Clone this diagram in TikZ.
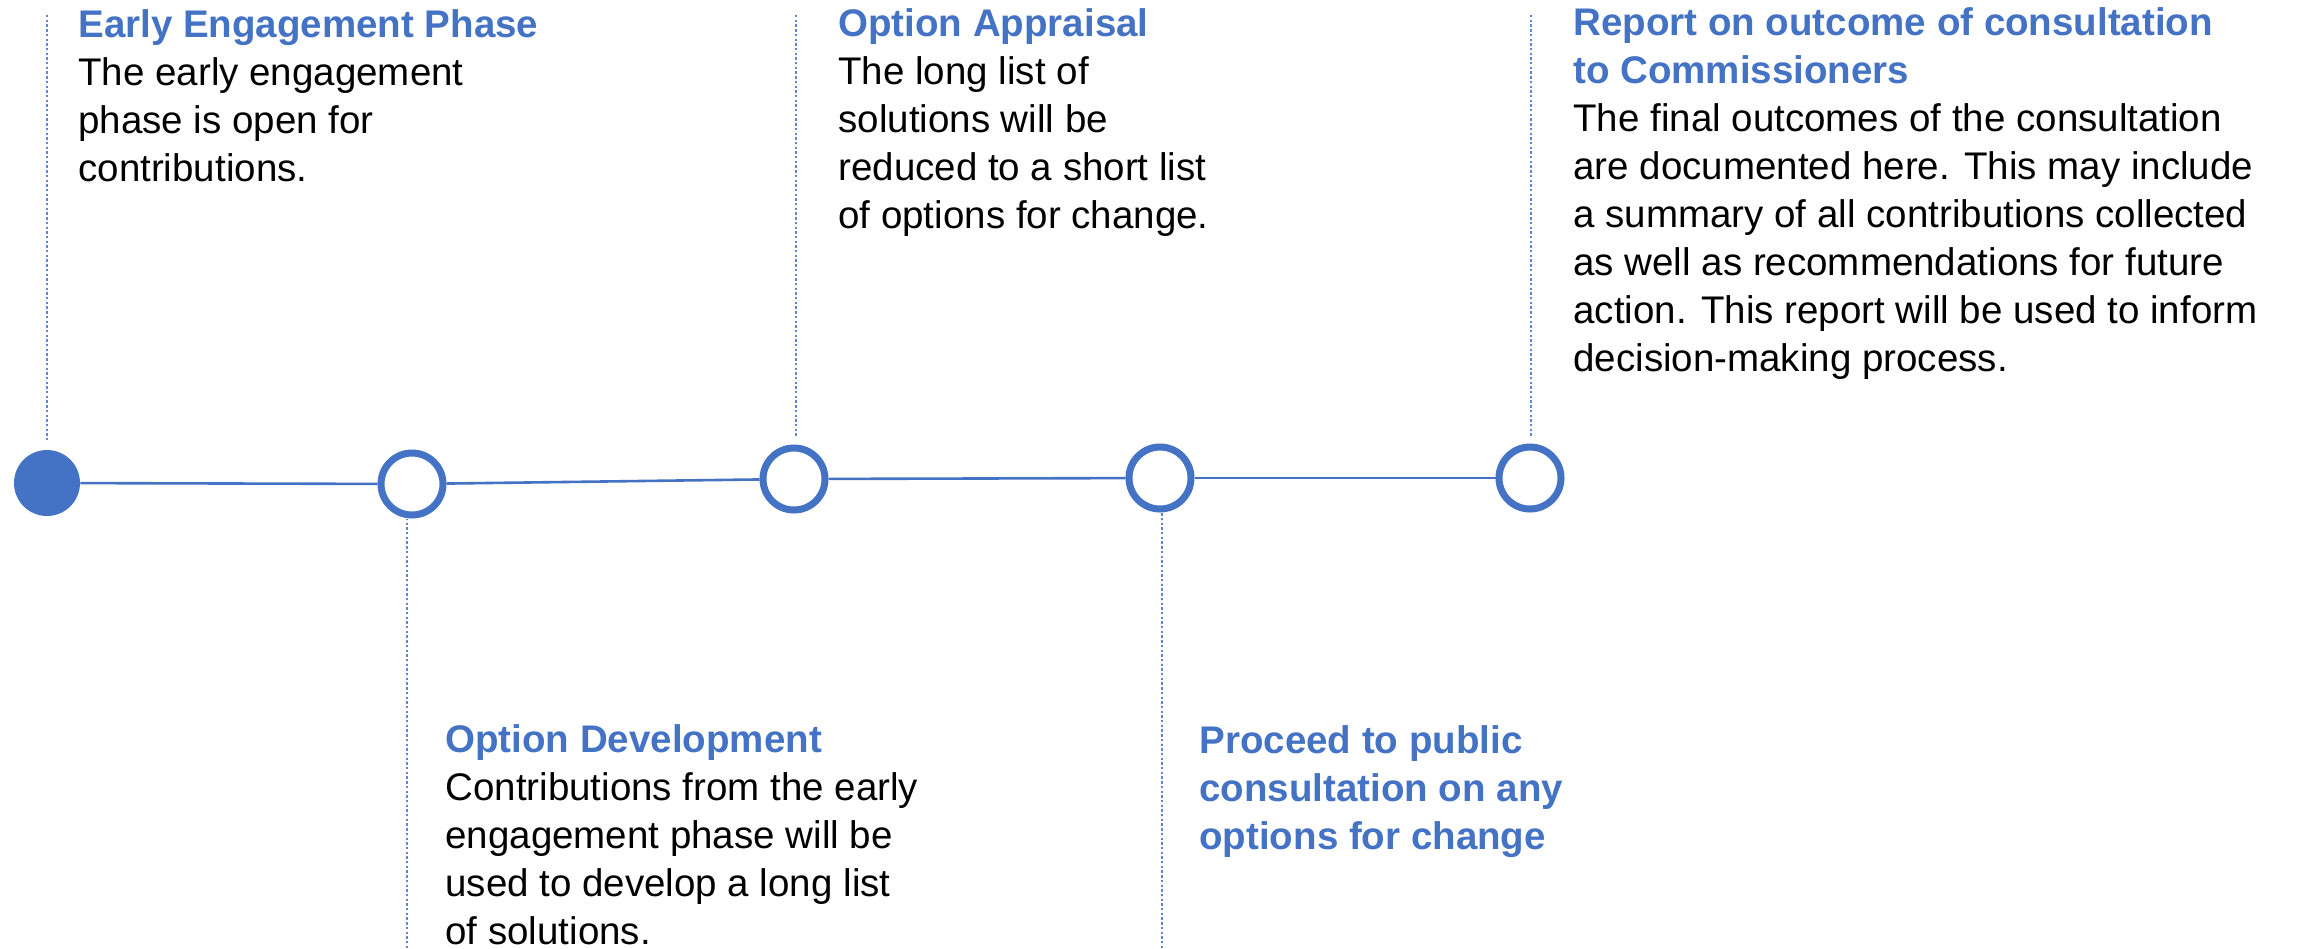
\documentclass[tikz,border=0pt]{standalone}
\usepackage{fontspec}
\setmainfont{Liberation Sans}
\definecolor{blu}{HTML}{4472C4}
\newcommand{\tlbox}[1]{\parbox[t]{400pt}{\raggedright\leavevmode #1}}
\begin{document}
\begin{tikzpicture}[x=0.5pt,y=-0.5pt,
  opencirc/.style={circle, draw=blu, line width=3.5pt, fill=white, minimum size=31pt, inner sep=0pt},
  fullcirc/.style={circle, fill=blu, minimum size=33pt, inner sep=0pt},
  mainline/.style={draw=blu, line width=1.3pt},
  dotline/.style={draw=blu!85, line width=0.9pt, dash pattern=on 1.2pt off 1.15pt},
  txt/.style={anchor=base west, inner sep=0pt, font=\fontsize{19.25}{24}\selectfont}]
\useasboundingbox (0,0) rectangle (2305,948);

% circles
\node[fullcirc] (c1) at (47,483) {};
\node[opencirc] (c2) at (412,484) {};
\node[opencirc] (c3) at (794,479) {};
\node[opencirc] (c4) at (1160,478) {};
\node[opencirc] (c5) at (1530,478) {};

% main timeline
\draw[mainline] (c1) -- (c2);
\draw[mainline] (c2) -- (c3);
\draw[mainline] (c3) -- (c4);
\draw[mainline] (c4) -- (c5);

% dotted leaders
\coordinate (t1) at (47,15);
\coordinate (b2) at (407,948);
\coordinate (t3) at (796,15);
\coordinate (b4) at (1162,948);
\coordinate (t5) at (1531,15);
\draw[dotline] (t1) -- ([yshift=4pt]c1.north);
\draw[dotline] (b2) -- (b2 |- c2.south);
\draw[dotline] (t3) -- ([yshift=4pt]t3 |- c3.north);
\draw[dotline] (b4) -- (b4 |- c4.south);
\draw[dotline] (t5) -- ([yshift=4pt]t5 |- c5.north);

% texts
\node[txt] (n1) at (78,37) {\tlbox{{\color{blu}\bfseries Early Engagement Phase}\\
The early engagement\\
phase is open for\\
contributions.}};

\node[txt] (n2) at (445,752) {\tlbox{{\color{blu}\bfseries Option Development}\\
Contributions from the early\\
engagement phase will be\\
used to develop a long list\\
of solutions.}};

\node[txt] (n3) at (838,36) {\tlbox{{\color{blu}\bfseries Option Appraisal}\\
The long list of\\
solutions will be\\
reduced to a short list\\
of options for change.}};

\node[txt] (n4) at (1199,753) {\tlbox{{\color{blu}\bfseries Proceed to public\\
consultation on any\\
options for change}}};

\node[txt] (n5) at (1573,35) {\tlbox{{\color{blu}\bfseries Report on outcome of consultation\\
to Commissioners}\\
The final outcomes of the consultation\\
are documented here. This may include\\
a summary of all contributions collected\\
as well as recommendations for future\\
action. This report will be used to inform\\
decision-making process.}};
\end{tikzpicture}
\end{document}
